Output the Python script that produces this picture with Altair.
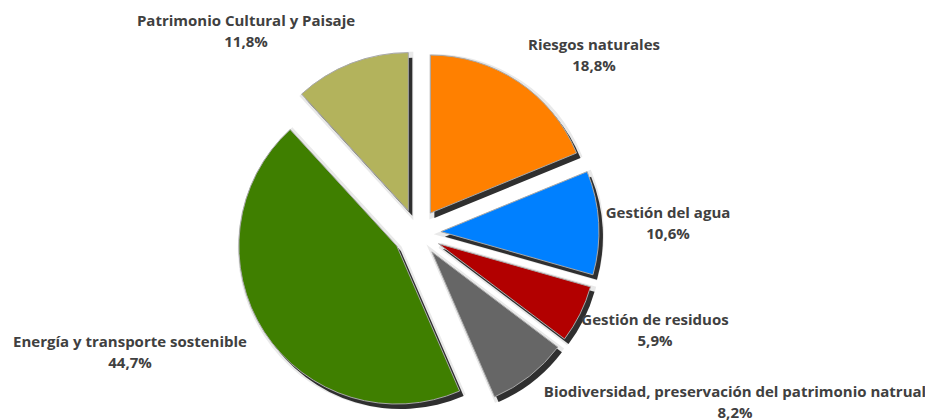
import math
import altair as alt
import pandas as pd

# ---------------- data ----------------
categories = [
    "Riesgos naturales",
    "Gestión del agua",
    "Gestión de residuos",
    "Biodiversidad, preservación del patrimonio natrual",
    "Energía y transporte sostenible",
    "Patrimonio Cultural y Paisaje",
]
values = [18.8, 10.6, 5.9, 8.2, 44.7, 11.8]
pct_labels = ["18,8%", "10,6%", "5,9%", "8,2%", "44,7%", "11,8%"]

# ---------------- styles / layout ----------------
colors = ["#FF8000", "#0080FF", "#B20000", "#666666", "#3F7F00", "#B3B35C"]
CX, CY = 409, 225          # pie centre in the plot area
R = 158                    # pie radius
EXPLODE = 24               # radial explosion of each slice
label_dx = [177, 251, 238, 318, -287, -171]     # label block position, relative to pie centre
label_dy = [-188, -20, 87, 159, 109, -212]

df = pd.DataFrame({
    "cat": categories,
    "value": values,
    "pct": pct_labels,
    "order": list(range(len(categories))),
    "ldx": label_dx,
    "ldy": label_dy,
})

base = alt.Chart(df).transform_window(
    cum="sum(value)", sort=[alt.SortField("order")], frame=[None, 0]
).transform_calculate(
    start="datum.cum - datum.value",
    end="datum.cum",
    mid="(datum.cum - datum.value / 2) / 100 * 2 * PI",
    ux="sin(datum.mid)",
    uy="-cos(datum.mid)",
    lx=f"{CX} + datum.ldx",
    ly=f"{CY} + datum.ldy",
    label="datum.cat + '\\n' + datum.pct",
)

xenc = alt.X("ux:Q", scale=alt.Scale(domain=[-1, 1], range=[CX - EXPLODE, CX + EXPLODE]), axis=None)
yenc = alt.Y("uy:Q", scale=alt.Scale(domain=[-1, 1], range=[CY - EXPLODE, CY + EXPLODE]), axis=None)
theta = alt.Theta("start:Q", stack=False, scale=alt.Scale(domain=[0, 100], range=[0, 2 * math.pi]))
theta2 = alt.Theta2("end:Q")

halo = base.mark_arc(radius=R, fill="#cfcfcf", stroke="#d8d8d8", strokeWidth=6,
                     opacity=0.55, xOffset=2, yOffset=2).encode(
    x=xenc, y=yenc, theta=theta, theta2=theta2)

shadow = base.mark_arc(radius=R, fill="#2f2f2f", xOffset=4, yOffset=5).encode(
    x=xenc, y=yenc, theta=theta, theta2=theta2)

slices = base.mark_arc(radius=R, stroke="#a8a8a8", strokeWidth=1).encode(
    x=xenc, y=yenc, theta=theta, theta2=theta2,
    color=alt.Color("cat:N", scale=alt.Scale(domain=categories, range=colors), legend=None),
)

text = base.mark_text(
    font="Open Sans", fontSize=15, fontWeight="bold", color="#404040",
    lineBreak="\n", lineHeight=21, baseline="middle", align="center",
).encode(
    x=alt.X("lx:Q", scale=None, axis=None),
    y=alt.Y("ly:Q", scale=None, axis=None),
    text="label:N",
)

pie = alt.layer(halo, shadow, slices).resolve_scale(x="shared", y="shared")

chart = alt.layer(pie, text).resolve_scale(x="independent", y="independent").properties(
    width=917, height=412,
    autosize=alt.AutoSizeParams(type="none"),
    padding=0,
).configure_view(stroke=None)

chart.save("out.html", embed_options={"renderer": "svg", "actions": False})
